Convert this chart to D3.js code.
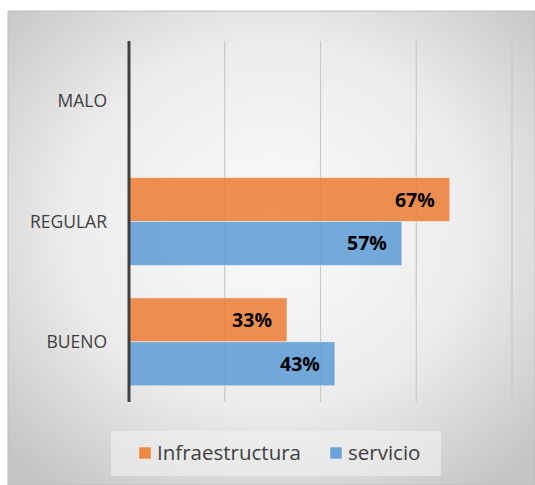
<!DOCTYPE html>
<html>
<head>
<meta charset="utf-8">
<script src="https://cdn.jsdelivr.net/npm/d3@7"></script>
<style>
  body { margin: 0; background: #fff; }
  svg { display: block; font-family: "Open Sans", "Noto Sans", sans-serif; }
</style>
</head>
<body>
<svg id="chart" width="535" height="485"></svg>
<script>
// --- Data ---
const categories = ["MALO", "REGULAR", "BUENO"];
const seriesNames = ["Infraestructura", "servicio"];
const infraestructura = [0, 67, 33];
const servicio = [0, 57, 43];
const xTicks = [0, 20, 40, 60, 80];
const colors = ["#ED7D31", "#5B9BD5"];

const svg = d3.select("#chart");
const defs = svg.append("defs");

// background panel gradient
const grad = defs.append("radialGradient")
    .attr("id", "bg").attr("cx", "50%").attr("cy", "45%").attr("r", "70%");
grad.append("stop").attr("offset", "0%").attr("stop-color", "#fbfbfb");
grad.append("stop").attr("offset", "55%").attr("stop-color", "#ececec");
grad.append("stop").attr("offset", "100%").attr("stop-color", "#c4c4c4");

svg.append("rect")
    .attr("x", 8).attr("y", 11).attr("width", 535 - 8).attr("height", 485 - 11)
    .attr("fill", "url(#bg)")
    .attr("stroke", "#bdbdbd").attr("stroke-width", 1);

// --- Scales ---
const margin = { left: 129, right: 23, top: 41, bottom: 83 };
const x = d3.scaleLinear().domain([0, 80]).range([margin.left, 535 - margin.right]);
const y = d3.scaleBand().domain(categories).range([margin.top, 485 - margin.bottom])
    .paddingInner(0.27).paddingOuter(0.135);
const ySub = d3.scaleBand().domain(seriesNames).range([0, y.bandwidth()]);

// gridlines
svg.append("g")
    .selectAll("line")
    .data(xTicks.slice(1))
    .join("line")
    .attr("x1", d => x(d)).attr("x2", d => x(d))
    .attr("y1", margin.top).attr("y2", 485 - margin.bottom)
    .attr("stroke", "#c8c8c8").attr("stroke-width", 1.2);

// bars
const rows = categories.map((c, i) => ({
    cat: c,
    vals: [infraestructura[i], servicio[i]]
}));

const group = svg.append("g")
    .selectAll("g")
    .data(rows)
    .join("g")
    .attr("transform", d => `translate(0,${y(d.cat)})`);

group.selectAll("rect")
    .data(d => d.vals.map((v, j) => ({ v, s: seriesNames[j], j })).filter(e => e.v > 0))
    .join("rect")
    .attr("x", x(0))
    .attr("y", d => ySub(d.s))
    .attr("width", d => x(d.v) - x(0))
    .attr("height", ySub.bandwidth())
    .attr("fill", d => colors[d.j])
    .attr("fill-opacity", 0.85)
    .attr("stroke", "#ffffff").attr("stroke-opacity", 0.45).attr("stroke-width", 1);

group.selectAll("text")
    .data(d => d.vals.map((v, j) => ({ v, s: seriesNames[j] })).filter(e => e.v > 0))
    .join("text")
    .attr("x", d => x(d.v) - 15)
    .attr("y", d => ySub(d.s) + ySub.bandwidth() / 2)
    .attr("dy", "0.36em")
    .attr("text-anchor", "end")
    .attr("font-size", 19.5)
    .attr("font-weight", "bold")
    .attr("fill", "#000")
    .text(d => d.v + "%");

// category axis line
svg.append("line")
    .attr("x1", x(0)).attr("x2", x(0))
    .attr("y1", margin.top).attr("y2", 485 - margin.bottom)
    .attr("stroke", "#404040").attr("stroke-width", 3);

// category labels
svg.append("g")
    .selectAll("text")
    .data(categories)
    .join("text")
    .attr("x", 107)
    .attr("y", d => y(d) + y.bandwidth() / 2)
    .attr("dy", "0.36em")
    .attr("text-anchor", "end")
    .attr("font-size", 17.5)
    .attr("fill", "#404040")
    .text(d => d);

// --- Legend ---
svg.append("rect")
    .attr("x", 111).attr("y", 431).attr("width", 330).attr("height", 45)
    .attr("fill", "#f2f2f2").attr("fill-opacity", 0.6);

const legendX = [139, 330];
const legend = svg.append("g")
    .selectAll("g")
    .data(seriesNames)
    .join("g")
    .attr("transform", (d, i) => `translate(${legendX[i]},447)`);

legend.append("rect")
    .attr("width", 12).attr("height", 12)
    .attr("fill", (d, i) => colors[i]).attr("fill-opacity", 0.9)
    .attr("stroke", "#fff").attr("stroke-opacity", 0.4);

legend.append("text")
    .attr("x", 18).attr("y", 6).attr("dy", "0.36em")
    .attr("font-size", 20.5)
    .attr("fill", "#404040")
    .text(d => d);
</script>
</body>
</html>
